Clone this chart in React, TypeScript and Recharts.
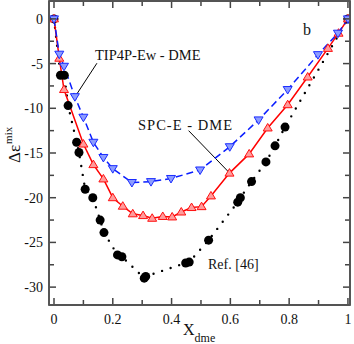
import React from 'react';
import { ComposedChart, Line, XAxis, YAxis, ReferenceLine } from 'recharts';

// TIP4P-Ew - DME (blue, dashed, down triangles)
const tipX = [0, 0.018, 0.034, 0.071, 0.1, 0.134, 0.168, 0.2, 0.265, 0.33, 0.398, 0.497, 0.598, 0.696, 0.795, 0.898, 0.966, 1];
const tipY = [0, -3.95, -5.3, -8.7, -11.0, -13.8, -15.5, -16.75, -18.3, -18.2, -17.85, -16.9, -14.3, -11.3, -7.9, -4.0, -1.6, 0];

// SPC-E - DME (red, solid, up triangles)
const spcX = [0, 0.018, 0.034, 0.1, 0.134, 0.168, 0.2, 0.234, 0.268, 0.303, 0.334, 0.37, 0.402, 0.433, 0.468, 0.502, 0.534, 0.597, 0.664, 0.727, 0.795, 0.863, 0.932, 0.968, 1];
const spcY = [0, -4.4, -7.9, -14.0, -16.3, -17.9, -20.0, -20.95, -21.8, -22.0, -22.3, -22.1, -22.15, -21.6, -21.1, -21.0, -19.8, -17.25, -15.1, -12.2, -9.6, -6.5, -3.3, -1.6, 0];

// Ref. [46] (black dots, dotted)
const refX = [0, 0.022, 0.035, 0.048, 0.077, 0.085, 0.106, 0.132, 0.157, 0.17, 0.216, 0.231, 0.307, 0.312, 0.448, 0.46, 0.526, 0.625, 0.634, 0.672, 0.721, 0.752, 0.786, 1];
const refY = [0, -6.3, -6.3, -9.7, -13.8, -14.95, -19.05, -20.0, -22.5, -23.9, -26.4, -26.6, -29.0, -28.8, -27.3, -27.2, -24.75, -20.5, -20.0, -18.2, -16.0, -14.2, -12.1, 0];

const xTicks = [0, 0.1, 0.2, 0.3, 0.4, 0.5, 0.6, 0.7, 0.8, 0.9, 1];
const yTicks = [-30, -27.5, -25, -22.5, -20, -17.5, -15, -12.5, -10, -7.5, -5, -2.5, 0];

const zip = (xs: number[], ys: number[]) => xs.map((x, i) => ({ x, y: ys[i] }));
const tipData = zip(tipX, tipY);
const spcData = zip(spcX, spcY);
const refData = zip(refX, refY);

const X_DOMAIN = [-0.017, 1.007];
const Y_DOMAIN = [-32, 2];

const FONT = "'Liberation Serif', 'Times New Roman', serif";
const AXIS = '#444';
// plot box edges (fixed layout): left 49, top 1, right 350, bottom 305
const PLOT_TOP = 1;
const PLOT_RIGHT = 350;

const isMajorX = (v: number) => Math.round(v * 10) % 2 === 0;
const isMajorY = (v: number) => Math.abs(v % 5) < 1e-6;

const BottomTick = (p: any) => {
  const v = p.payload.value;
  const major = isMajorX(v);
  const len = major ? 7 : 5;
  return (
    <g>
      <line x1={p.x} y1={p.y} x2={p.x} y2={p.y - len} stroke={AXIS} strokeWidth={1.5} />
      <line x1={p.x} y1={PLOT_TOP} x2={p.x} y2={PLOT_TOP + len} stroke={AXIS} strokeWidth={1.5} />
      {major && (
        <text x={p.x} y={p.y + 19} textAnchor="middle" fontSize={14} fontFamily={FONT} fill="#111">
          {String(Math.round(v * 10) / 10)}
        </text>
      )}
    </g>
  );
};

const LeftTick = (p: any) => {
  const v = p.payload.value;
  const major = isMajorY(v);
  const len = major ? 7 : 5;
  return (
    <g>
      <line x1={p.x} y1={p.y} x2={p.x + len} y2={p.y} stroke={AXIS} strokeWidth={1.5} />
      <line x1={PLOT_RIGHT} y1={p.y} x2={PLOT_RIGHT - len} y2={p.y} stroke={AXIS} strokeWidth={1.5} />
      {major && (
        <text x={p.x - 6} y={p.y + 5} textAnchor="end" fontSize={14} fontFamily={FONT} fill="#111">
          {String(v)}
        </text>
      )}
    </g>
  );
};

const DownTri = (p: any) => {
  const { cx, cy } = p;
  return (
    <polygon
      key={'d' + p.index}
      points={`${cx - 4.5},${cy - 3} ${cx + 4.5},${cy - 3} ${cx},${cy + 4.5}`}
      fill="#8c9cff"
      stroke="#1a2cff"
      strokeWidth={1}
    />
  );
};

const UpTri = (p: any) => {
  const { cx, cy } = p;
  return (
    <polygon
      key={'u' + p.index}
      points={`${cx - 4.5},${cy + 3} ${cx + 4.5},${cy + 3} ${cx},${cy - 4.5}`}
      fill="#ff9c9c"
      stroke="#ff1010"
      strokeWidth={1}
    />
  );
};

const BigDot = (p: any) => <circle key={'c' + p.index} cx={p.cx} cy={p.cy} r={4.5} fill="#000" />;

export default function App() {
  return (
    <div style={{ position: 'relative', width: 354, height: 344, fontFamily: FONT }}>
      <style>{'body{margin:0}'}</style>
      <ComposedChart width={354} height={344} margin={{ top: 1, right: 4, bottom: 0, left: 0 }}>
        <XAxis
          dataKey="x"
          type="number"
          domain={X_DOMAIN}
          ticks={xTicks}
          interval={0}
          height={39}
          tickSize={0}
          tickMargin={0}
          tick={<BottomTick />}
          axisLine={{ stroke: '#555', strokeWidth: 1.8 }}
          allowDataOverflow
        />
        <YAxis
          type="number"
          domain={Y_DOMAIN}
          ticks={yTicks}
          interval={0}
          width={49}
          tickSize={0}
          tickMargin={0}
          tick={<LeftTick />}
          axisLine={{ stroke: '#555', strokeWidth: 1.8 }}
          allowDataOverflow
        />
        <ReferenceLine y={Y_DOMAIN[1]} stroke="#555" strokeWidth={1.8} ifOverflow="visible" />
        <ReferenceLine x={X_DOMAIN[1]} stroke="#555" strokeWidth={1.8} ifOverflow="visible" />
        <ReferenceLine segment={[{ x: 0.146, y: -4.96 }, { x: 0.072, y: -8.69 }]} stroke="#000" strokeWidth={1} />
        <ReferenceLine segment={[{ x: 0.458, y: -12.5 }, { x: 0.598, y: -17.26 }]} stroke="#000" strokeWidth={1} />
        <Line
          data={refData}
          dataKey="y"
          stroke="#000"
          strokeWidth={2.4}
          strokeDasharray="0 9"
          strokeLinecap="round"
          dot={BigDot}
          activeDot={false}
          isAnimationActive={false}
        />
        <Line
          data={spcData}
          dataKey="y"
          stroke="#ff0000"
          strokeWidth={1.5}
          dot={UpTri}
          activeDot={false}
          isAnimationActive={false}
        />
        <Line
          data={tipData}
          dataKey="y"
          stroke="#0a1eff"
          strokeWidth={1.5}
          strokeDasharray="7 4"
          dot={DownTri}
          activeDot={false}
          isAnimationActive={false}
        />
      </ComposedChart>
      <svg
        width={354}
        height={344}
        style={{ position: 'absolute', left: 0, top: 0, pointerEvents: 'none' }}
        fontFamily={FONT}
      >
        <rect x={49} y={1} width={301} height={304} fill="none" stroke="#555" strokeWidth={1.8} />
        <text x={95} y={60} fontSize={14.5} fill="#111">TIP4P-Ew - DME</text>
        <text x={138} y={129.5} fontSize={14.5} fill="#111" textLength={94}>SPC-E - DME</text>
        <text x={208} y={268.5} fontSize={14} fill="#111">Ref. [46]</text>
        <text x={303} y={34.5} fontSize={16} fill="#111">b</text>
        <text transform="translate(19.5,163) rotate(-90)" fontSize={17} fill="#111">
          Δε
          <tspan dx={1} dy={-8} fontSize={11}>mix</tspan>
        </text>
        <text x={183} y={335} fontSize={16} fill="#111">
          X
          <tspan dy={7} fontSize={12}>dme</tspan>
        </text>
      </svg>
    </div>
  );
}
